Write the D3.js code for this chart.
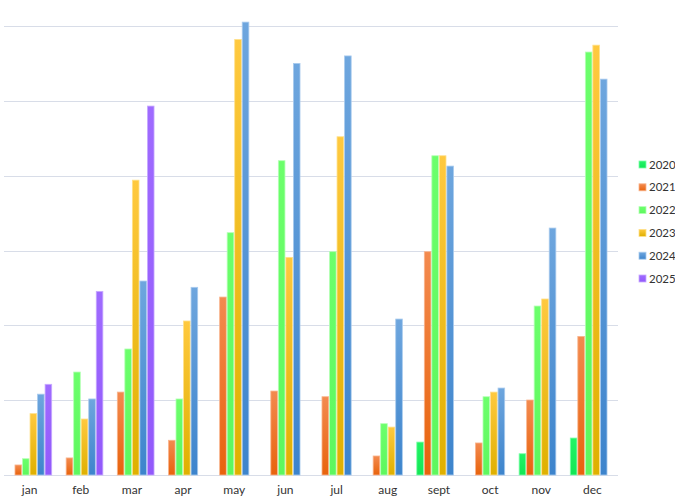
<!DOCTYPE html>
<html>
<head>
<meta charset="utf-8">
<script src="https://cdn.jsdelivr.net/npm/d3@7"></script>
<style>
  body { margin: 0; background: #fff; }
  text { font-family: Lato, "Open Sans", sans-serif; }
</style>
</head>
<body>
<script>
// months and series
var months = ["jan","feb","mar","apr","may","jun","jul","aug","sept","oct","nov","dec"];
var years = ["2020","2021","2022","2023","2024","2025"];

var v2020 = [0, 0, 0, 0, 0, 0, 0, 0, 22, 0, 14.2, 24.7];
var v2021 = [6.7, 11.4, 55.4, 23.2, 118.9, 56.1, 52.3, 12.7, 149.2, 21.4, 50.1, 92.6];
var v2022 = [10.9, 68.8, 84.2, 50.8, 161.9, 210, 149.2, 34.3, 213.3, 52.3, 112.9, 282.6];
var v2023 = [41, 37.4, 197, 102.9, 291, 145.4, 226, 32, 213.3, 55.4, 117.6, 287.2];
var v2024 = [54, 50.8, 129.6, 125.4, 302.6, 275, 280, 104.2, 206.4, 58.1, 165, 264.5];
var v2025 = [60.6, 122.7, 246.5, 0, 0, 0, 0, 0, 0, 0, 0, 0];

var yTicks = [0, 50, 100, 150, 200, 250, 300];

var series = [v2020, v2021, v2022, v2023, v2024, v2025];

// colours: top / bottom of gradient, outline
var colors = [
  {top: "#22f466", bot: "#12e655", line: "#7dffa8"},
  {top: "#f38a4f", bot: "#e8630c", line: "#f9b58e"},
  {top: "#6cff6c", bot: "#5ef75e", line: "#b5ffb5"},
  {top: "#ffc93f", bot: "#dfb000", line: "#ffe08a"},
  {top: "#6ea6de", bot: "#3d84cc", line: "#a9cbee"},
  {top: "#9f6bff", bot: "#9259fb", line: "#c8abff"}
];

var W = 675, H = 500;
var margin = {top: 26, right: 57, bottom: 25, left: 4};
var width = W - margin.left - margin.right,
    height = H - margin.top - margin.bottom;

var svg = d3.select("body").append("svg")
    .attr("width", W)
    .attr("height", H);

var defs = svg.append("defs");
colors.forEach(function(c, i) {
  var g = defs.append("linearGradient")
      .attr("id", "grad" + i)
      .attr("x1", 0).attr("y1", 0).attr("x2", 0).attr("y2", 1);
  g.append("stop").attr("offset", "0%").attr("stop-color", c.top);
  g.append("stop").attr("offset", "100%").attr("stop-color", c.bot);
});

var g = svg.append("g")
    .attr("transform", "translate(" + margin.left + "," + margin.top + ")");

var x0 = d3.scaleBand().domain(months).range([0, width]).paddingInner(0.1).paddingOuter(0.05);
var x1 = d3.scaleBand().domain(years).range([0, x0.bandwidth()]).padding(0.12);
var y = d3.scaleLinear().domain([0, 300]).range([height, 0]);

// gridlines
g.append("g")
  .selectAll("line")
  .data(yTicks)
  .enter().append("line")
    .attr("x1", 0)
    .attr("x2", width)
    .attr("y1", function(d) { return Math.round(y(d)) + 0.5; })
    .attr("y2", function(d) { return Math.round(y(d)) + 0.5; })
    .attr("stroke", "#d8dde8")
    .attr("stroke-width", 1.2);

// bars
var groups = g.append("g")
  .selectAll("g")
  .data(months)
  .enter().append("g")
    .attr("transform", function(d) { return "translate(" + x0(d) + ",0)"; });

groups.selectAll("rect")
  .data(function(m, mi) {
    return years.map(function(yr, si) { return {year: yr, si: si, value: series[si][mi]}; })
      .filter(function(d) { return d.value > 0; });
  })
  .enter().append("rect")
    .attr("x", function(d) { return x1(d.year); })
    .attr("y", function(d) { return y(d.value); })
    .attr("width", x1.bandwidth())
    .attr("height", function(d) { return height - y(d.value); })
    .attr("fill", function(d) { return "url(#grad" + d.si + ")"; })
    .attr("stroke", function(d) { return colors[d.si].line; })
    .attr("stroke-width", 0.8);

// x axis labels
var xAxis = g.append("g")
    .attr("transform", "translate(0," + height + ")")
    .call(d3.axisBottom(x0).tickSize(0).tickPadding(10));
xAxis.select(".domain").remove();
xAxis.selectAll("text")
    .attr("font-size", 12)
    .attr("fill", "#333")
    .style("font-family", "Lato, sans-serif");

// legend
var legend = svg.append("g")
    .attr("transform", "translate(639,161)");

var li = legend.selectAll("g")
  .data(years)
  .enter().append("g")
    .attr("transform", function(d, i) { return "translate(0," + (i * 22.8) + ")"; });

li.append("rect")
    .attr("width", 7)
    .attr("height", 7)
    .attr("fill", function(d, i) { return "url(#grad" + i + ")"; })
    .attr("stroke", function(d, i) { return colors[i].line; })
    .attr("stroke-width", 0.8);

li.append("text")
    .attr("x", 10)
    .attr("y", 7.5)
    .attr("font-size", 11.5)
    .attr("fill", "#333")
    .text(function(d) { return d; });
</script>
</body>
</html>
